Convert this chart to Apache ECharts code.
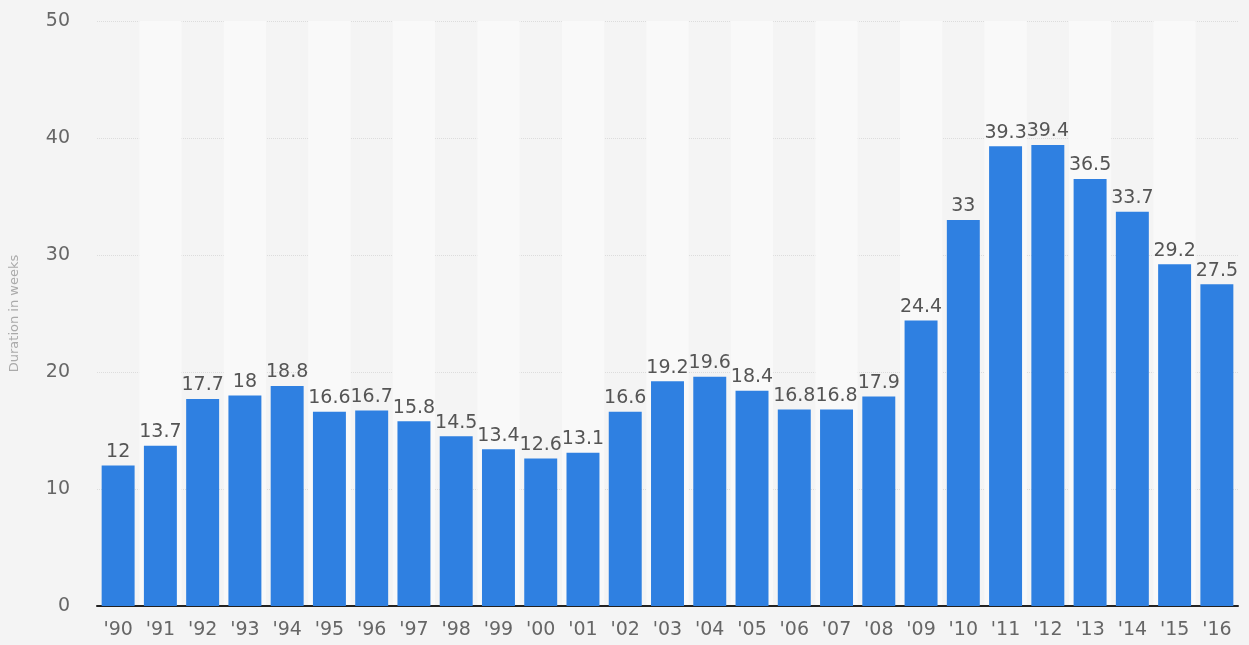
<!DOCTYPE html>
<html><head><meta charset="utf-8">
<script src="https://cdn.jsdelivr.net/npm/echarts@6/dist/echarts.min.js"></script>
<style>html,body{margin:0;padding:0;background:#f4f4f4;}#c{width:1249px;height:645px;}</style>
</head><body><div id="c"></div>
<script>
const categories = ["'90","'91","'92","'93","'94","'95","'96","'97","'98","'99","'00","'01","'02","'03","'04","'05","'06","'07","'08","'09","'10","'11","'12","'13","'14","'15","'16"];
const values = [12,13.7,17.7,18,18.8,16.6,16.7,15.8,14.5,13.4,12.6,13.1,16.6,19.2,19.6,18.4,16.8,16.8,17.9,24.4,33,39.3,39.4,36.5,33.7,29.2,27.5];
const yTicks = [0,10,20,30,40,50];
const chart = echarts.init(document.getElementById('c'));
chart.setOption({
  backgroundColor:'#f4f4f4',
  animation:false,
  grid:{left:95,right:11,top:21,bottom:39},
  xAxis:{type:'category',data:categories,
    axisLine:{lineStyle:{color:'#222',width:2}},axisTick:{show:false},
    axisLabel:{color:'#666',fontSize:19,fontFamily:'DejaVu Sans',margin:15},
    splitArea:{show:true,areaStyle:{color:['rgba(0,0,0,0)','#f9f9f9']}}},
  yAxis:{type:'value',min:yTicks[0],max:yTicks[yTicks.length-1],interval:10,
    name:'Duration in weeks',nameLocation:'middle',nameGap:76,
    nameTextStyle:{color:'#aaa',fontSize:13,fontFamily:'DejaVu Sans'},
    axisLabel:{color:'#666',fontSize:19,fontFamily:'DejaVu Sans',margin:27},
    axisLine:{show:false},axisTick:{show:false},
    splitLine:{lineStyle:{color:'#dcdcdc',type:'dotted',width:1}}},
  series:[{type:'bar',data:values,barCategoryGap:'22%',
    itemStyle:{color:'#2f80e1'},
    label:{show:true,position:'top',color:'#555',fontSize:19,fontFamily:'DejaVu Sans',distance:4}}]
});
</script></body></html>
